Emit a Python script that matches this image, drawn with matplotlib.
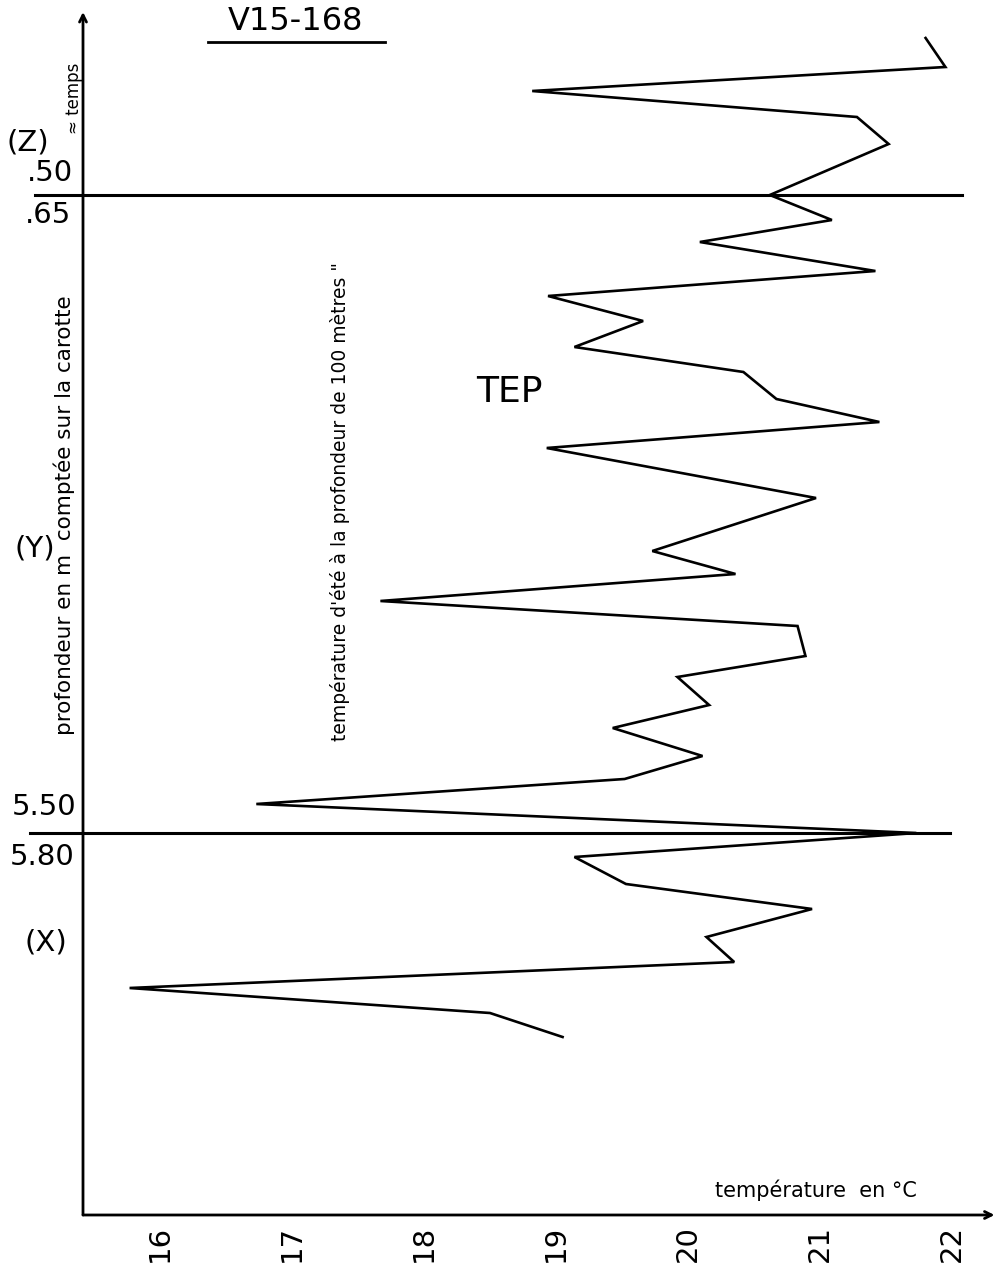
import matplotlib
import matplotlib.pyplot as plt
from matplotlib.lines import Line2D

matplotlib.use('Agg')

# summer temperature at 100 m (TEP), top of core first
temperature = [21.80, 21.95, 18.82, 21.28, 21.52, 20.62, 21.09, 20.09, 21.42, 18.94,
               19.66, 19.14, 20.42, 20.67, 21.45, 18.93, 20.97, 19.73, 20.36, 17.67,
               20.83, 20.89, 19.92, 20.16, 19.43, 20.11, 19.52, 16.73, 21.73, 19.14,
               19.53, 20.94, 20.14, 20.35, 15.77, 18.50, 19.05]
# position along the core in drawing units (downwards)
core_pos = [38, 67, 91, 117, 144, 195, 220, 242, 271, 296,
            321, 347, 372, 399, 422, 448, 498, 551, 574, 601,
            626, 656, 677, 705, 728, 756, 779, 804, 833, 857,
            884, 909, 937, 962, 988, 1013, 1037]
# section boundaries Z/Y and Y/X
boundaries = [195, 833]
xticks = [16, 17, 18, 19, 20, 21, 22]

W, H = 1001, 1271
fig = plt.figure(figsize=(W / 100, H / 100), dpi=100)
ax = fig.add_axes([83 / W, 1 - 1215 / H, 907 / W, 1203 / H])

ax.plot(temperature, core_pos, color='black', lw=1.9, solid_joinstyle='miter')
ax.axhline(boundaries[0], -0.053, 0.969, color='black', lw=2.2, clip_on=False)
ax.axhline(boundaries[1], -0.058, 0.956, color='black', lw=2.2, clip_on=False)

ax.set_xlim(15.417, 22.288)
ax.set_ylim(1215, 12)
ax.set_xticks(xticks)
ax.set_xticklabels([str(t) for t in xticks], rotation=90, fontsize=21)
ax.set_yticks([])
ax.tick_params(axis='x', length=0, pad=7)
for s in ax.spines.values():
    s.set_visible(False)

# axes drawn as arrows
arrow = dict(arrowstyle='->,head_length=0.5,head_width=0.25', lw=2, color='black',
             shrinkA=0, shrinkB=0)
ax.annotate('', xy=(0, 1), xytext=(0, 0), xycoords='axes fraction', arrowprops=arrow)
ax.annotate('', xy=(1.005, 0), xytext=(0, 0), xycoords='axes fraction', arrowprops=arrow)


def ftext(x, y, s, **kw):
    fig.text(x / W, 1 - y / H, s, **kw)


ftext(296, 22, 'V15-168', fontsize=23, ha='center', va='center')
fig.add_artist(Line2D([208 / W, 385 / W], [1 - 42 / H, 1 - 42 / H], color='black', lw=2))

ftext(28, 142, '(Z)', fontsize=21, ha='center', va='center')
ftext(50, 173, '.50', fontsize=21, ha='center', va='center')
ftext(48, 215, '.65', fontsize=21, ha='center', va='center')
ftext(35, 548, '(Y)', fontsize=21, ha='center', va='center')
ftext(44, 807, '5.50', fontsize=21, ha='center', va='center')
ftext(42, 857, '5.80', fontsize=21, ha='center', va='center')
ftext(46, 943, '(X)', fontsize=21, ha='center', va='center')

ftext(74, 98, '≈ temps', fontsize=12, rotation=90, ha='center', va='center')
ftext(64, 515, 'profondeur en m  comptée sur la carotte', fontsize=15.5,
      rotation=90, ha='center', va='center')
ftext(340, 502, "température d'été à la profondeur de 100 mètres \"", fontsize=13.5,
      rotation=90, ha='center', va='center')
ftext(509, 392, 'TEP', fontsize=26, ha='center', va='center')
ftext(816, 1190, 'température  en °C', fontsize=15, ha='center', va='center')

fig.savefig('out.png', dpi=100)
